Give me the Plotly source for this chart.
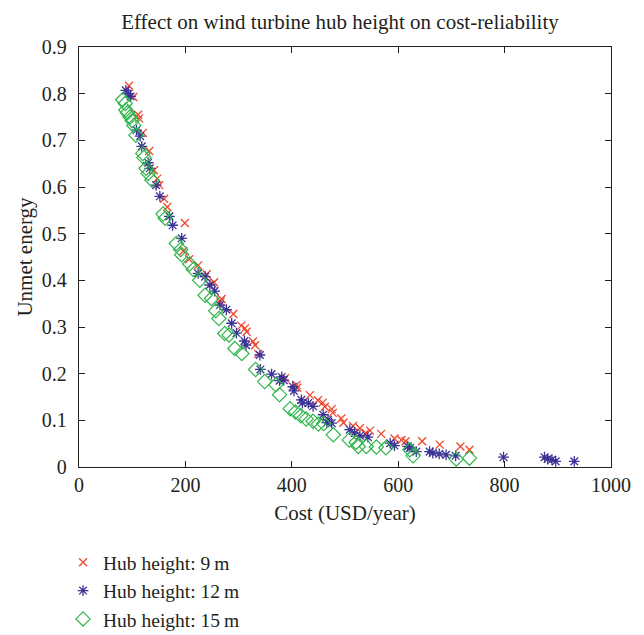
import plotly.graph_objects as go

# Hub height 9 m
cost_9m = [94, 102, 111, 113, 120, 132, 141, 147, 151, 160, 166, 199, 196, 207, 224, 240,
           251, 254, 266, 268, 290, 305, 312, 315, 327, 331, 337, 387, 409, 410, 434, 449,
           458, 462, 475, 477, 493, 497, 515, 528, 539, 547, 568, 593, 606, 614, 645, 678,
           717, 734]
unmet_9m = [0.817, 0.793, 0.755, 0.747, 0.716, 0.677, 0.636, 0.618, 0.604, 0.575, 0.557, 0.523,
            0.463, 0.445, 0.432, 0.413, 0.393, 0.396, 0.354, 0.36, 0.328, 0.303, 0.297, 0.29,
            0.269, 0.261, 0.242, 0.19, 0.176, 0.17, 0.154, 0.143, 0.138, 0.129, 0.124, 0.116,
            0.104, 0.095, 0.088, 0.083, 0.073, 0.078, 0.071, 0.061, 0.058, 0.055, 0.055, 0.048,
            0.044, 0.037]

# Hub height 12 m
cost_12m = [88, 93, 97, 108, 115, 118, 130, 133, 145, 152, 170, 176, 193, 224, 237, 246,
            255, 265, 277, 287, 296, 311, 314, 340, 341, 362, 377, 381, 385, 402, 404, 418,
            420, 431, 440, 459, 466, 468, 475, 509, 518, 528, 543, 585, 593, 618, 622, 634,
            659, 665, 677, 690, 708, 798, 875, 881, 889, 896, 931]
unmet_12m = [0.807, 0.800, 0.794, 0.722, 0.709, 0.687, 0.652, 0.640, 0.604, 0.580, 0.537, 0.518,
             0.490, 0.415, 0.408, 0.390, 0.377, 0.347, 0.337, 0.308, 0.287, 0.270, 0.261, 0.240,
             0.209, 0.199, 0.185, 0.193, 0.186, 0.172, 0.163, 0.144, 0.137, 0.137, 0.130, 0.112,
             0.095, 0.101, 0.094, 0.080, 0.073, 0.067, 0.064, 0.051, 0.046, 0.044, 0.041, 0.033,
             0.033, 0.030, 0.028, 0.026, 0.024, 0.021, 0.021, 0.017, 0.016, 0.012, 0.012]

# Hub height 15 m
cost_15m = [82, 87, 88, 91, 96, 100, 103, 107, 120, 122, 126, 130, 137, 158, 162, 183,
            191, 193, 208, 215, 227, 237, 249, 257, 263, 274, 282, 293, 306, 332, 349, 370,
            377, 397, 407, 417, 427, 440, 450, 460, 478, 508, 521, 525, 540, 559, 577, 622,
            628, 709, 734]
unmet_15m = [0.787, 0.779, 0.765, 0.759, 0.750, 0.742, 0.732, 0.711, 0.672, 0.663, 0.640, 0.629,
             0.615, 0.542, 0.533, 0.479, 0.466, 0.455, 0.435, 0.423, 0.400, 0.368, 0.361, 0.335,
             0.318, 0.286, 0.283, 0.254, 0.243, 0.209, 0.183, 0.176, 0.155, 0.125, 0.118, 0.110,
             0.103, 0.098, 0.092, 0.093, 0.069, 0.058, 0.053, 0.044, 0.044, 0.043, 0.041, 0.037,
             0.024, 0.017, 0.019]

x_ticks = [0, 200, 400, 600, 800, 1000]
y_ticks = [0, 0.1, 0.2, 0.3, 0.4, 0.5, 0.6, 0.7, 0.8, 0.9]

FONT = "Liberation Serif"
TXT = "#231f20"

fig = go.Figure()
fig.add_trace(go.Scatter(
    x=cost_9m, y=unmet_9m, mode="markers", name="Hub height: 9\u2009m",
    marker=dict(symbol="x-thin-open", size=8, color="#f0462a", line=dict(width=1.3, color="#f0462a")),
))
fig.add_trace(go.Scatter(
    x=cost_12m, y=unmet_12m, mode="markers", name="Hub height: 12\u2009m",
    marker=dict(symbol="asterisk-open", size=9, color="#3b3395", line=dict(width=1.3, color="#3b3395")),
))
fig.add_trace(go.Scatter(
    x=cost_15m, y=unmet_15m, mode="markers", name="Hub height: 15\u2009m",
    marker=dict(symbol="diamond-open", size=11, color="#2fb54a", line=dict(width=1.2, color="#2fb54a")),
))

axis_common = dict(
    showline=True, linecolor="#231f20", linewidth=1.3, mirror="allticks",
    ticks="inside", ticklen=6, tickcolor="#231f20", tickwidth=1.2,
    showgrid=False, zeroline=False,
    tickfont=dict(family=FONT, size=20, color=TXT),
)

fig.update_layout(
    width=636, height=627,
    paper_bgcolor="white", plot_bgcolor="white",
    margin=dict(l=71, r=33, t=39, b=168, autoexpand=False),
    title=dict(text="Effect on wind turbine hub height on cost-reliability",
               x=0.522, xanchor="center", y=0.979, yanchor="middle",
               font=dict(family=FONT, size=21, color=TXT)),
    xaxis=dict(range=[0, 1000], tickvals=x_ticks, ticktext=[str(v) for v in x_ticks],
               title=dict(text="Cost (USD/year)", font=dict(family=FONT, size=21, color=TXT), standoff=10),
               **axis_common),
    yaxis=dict(range=[0, 0.9], tickvals=y_ticks, ticktext=[("0" if v == 0 else f"{v:.1f}") for v in y_ticks],
               title=dict(text="Unmet energy", font=dict(family=FONT, size=21, color=TXT), standoff=3),
               ticklabelstandoff=7,
               **axis_common),
    showlegend=True,
    legend=dict(orientation="v", x=-0.03, xanchor="left", y=-0.181, yanchor="top",
                font=dict(family=FONT, size=19.5, color=TXT), bgcolor="rgba(0,0,0,0)",
                tracegroupgap=0, itemsizing="trace"),
)

fig.write_html("out.html")
